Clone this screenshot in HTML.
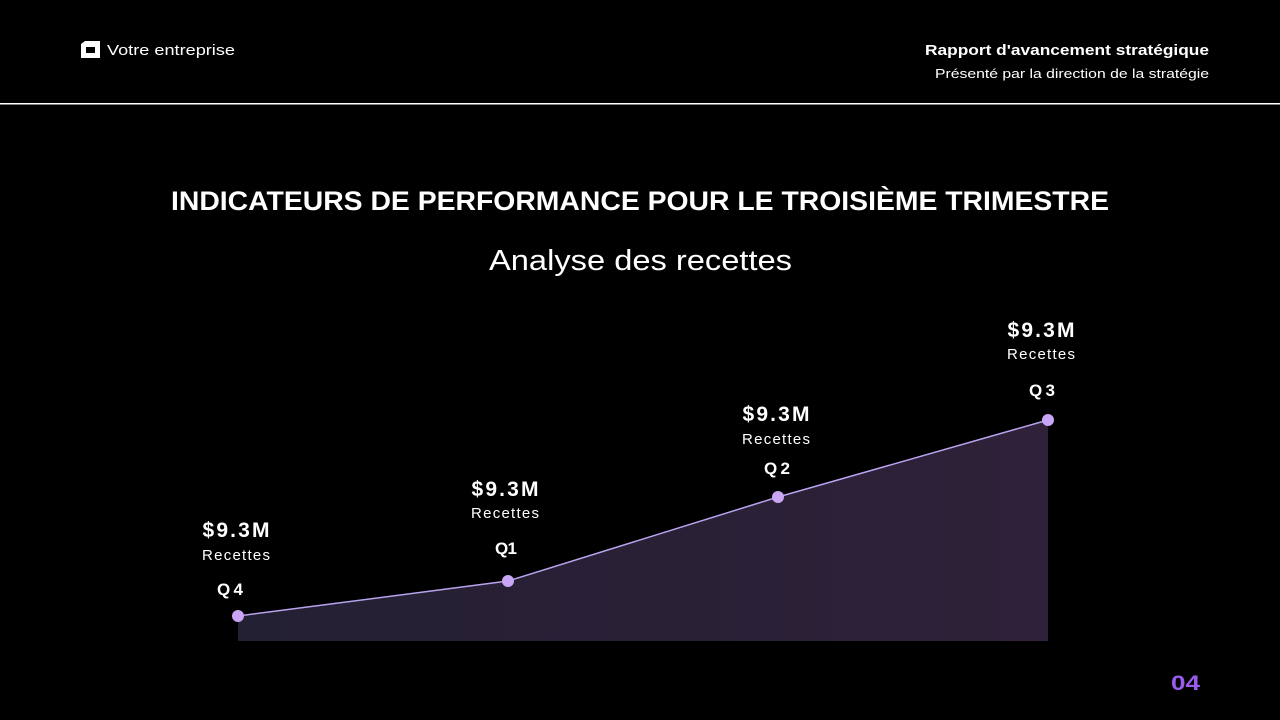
<!DOCTYPE html>
<html><head><meta charset="utf-8"><style>
body{margin:0;background:#000;width:1280px;height:720px;overflow:hidden;font-family:"Liberation Sans",sans-serif;color:#fff}
</style></head><body>
<svg width="1280" height="720" viewBox="0 0 1280 720" xmlns="http://www.w3.org/2000/svg" style="position:absolute;left:0;top:0">
<defs><linearGradient id="g" x1="0" x2="1" y1="0" y2="0"><stop offset="0" stop-color="#242033"/><stop offset="1" stop-color="#2e2139"/></linearGradient></defs>
<rect width="1280" height="720" fill="#000"/>
<path d="M81 44 L85 41 L100 41 L100 58 L81 58 Z M86 47 L86 53 L95 53 L95 47 Z" fill="#fff" fill-rule="evenodd"/>
<text x="107" y="55" font-size="15" fill="#fff" textLength="128" lengthAdjust="spacingAndGlyphs">Votre entreprise</text>
<text x="925" y="55" font-size="15" font-weight="bold" fill="#fff" textLength="284" lengthAdjust="spacingAndGlyphs">Rapport d'avancement stratégique</text>
<text x="935" y="78" font-size="13" fill="#fff" textLength="274" lengthAdjust="spacingAndGlyphs">Présenté par la direction de la stratégie</text>
<rect x="0" y="103" width="1280" height="1.5" fill="#fff"/>
<text x="171" y="210" font-size="27" font-weight="bold" fill="#fff" textLength="938" lengthAdjust="spacingAndGlyphs">INDICATEURS DE PERFORMANCE POUR LE TROISIÈME TRIMESTRE</text>
<text x="489" y="270" font-size="29" fill="#fff" textLength="303" lengthAdjust="spacingAndGlyphs">Analyse des recettes</text>
<path d="M238 616 L508 581 L778 497 L1048 420 L1048 641 L238 641 Z" fill="url(#g)"/>
<polyline points="238,616 508,581 778,497 1048,420" fill="none" stroke="#b9a3ee" stroke-width="1.5"/>
<g fill="#c8a6f5"><circle cx="238" cy="616" r="6"/><circle cx="508" cy="581" r="6"/><circle cx="778" cy="497" r="6"/><circle cx="1048" cy="420" r="6"/></g>
<g text-anchor="middle" fill="#fff" lengthAdjust="spacingAndGlyphs">
<text x="236" y="537" font-size="21" font-weight="bold" textLength="67">$9.3M</text><text x="236" y="560" font-size="15" textLength="68">Recettes</text><text x="230" y="595" font-size="17" font-weight="bold" textLength="26">Q4</text>
<text x="505" y="496" font-size="21" font-weight="bold" textLength="67">$9.3M</text><text x="505" y="518" font-size="15" textLength="68">Recettes</text><text x="506" y="554" font-size="17" font-weight="bold" textLength="22">Q1</text>
<text x="776" y="421" font-size="21" font-weight="bold" textLength="67">$9.3M</text><text x="776" y="444" font-size="15" textLength="68">Recettes</text><text x="777" y="474" font-size="17" font-weight="bold" textLength="26">Q2</text>
<text x="1041" y="337" font-size="21" font-weight="bold" textLength="67">$9.3M</text><text x="1041" y="359" font-size="15" textLength="68">Recettes</text><text x="1042" y="396" font-size="17" font-weight="bold" textLength="26">Q3</text>
</g>
<text x="1171" y="690" font-size="21" font-weight="bold" fill="#9a5cf0" textLength="29" lengthAdjust="spacingAndGlyphs">04</text>
</svg>
</body></html>
